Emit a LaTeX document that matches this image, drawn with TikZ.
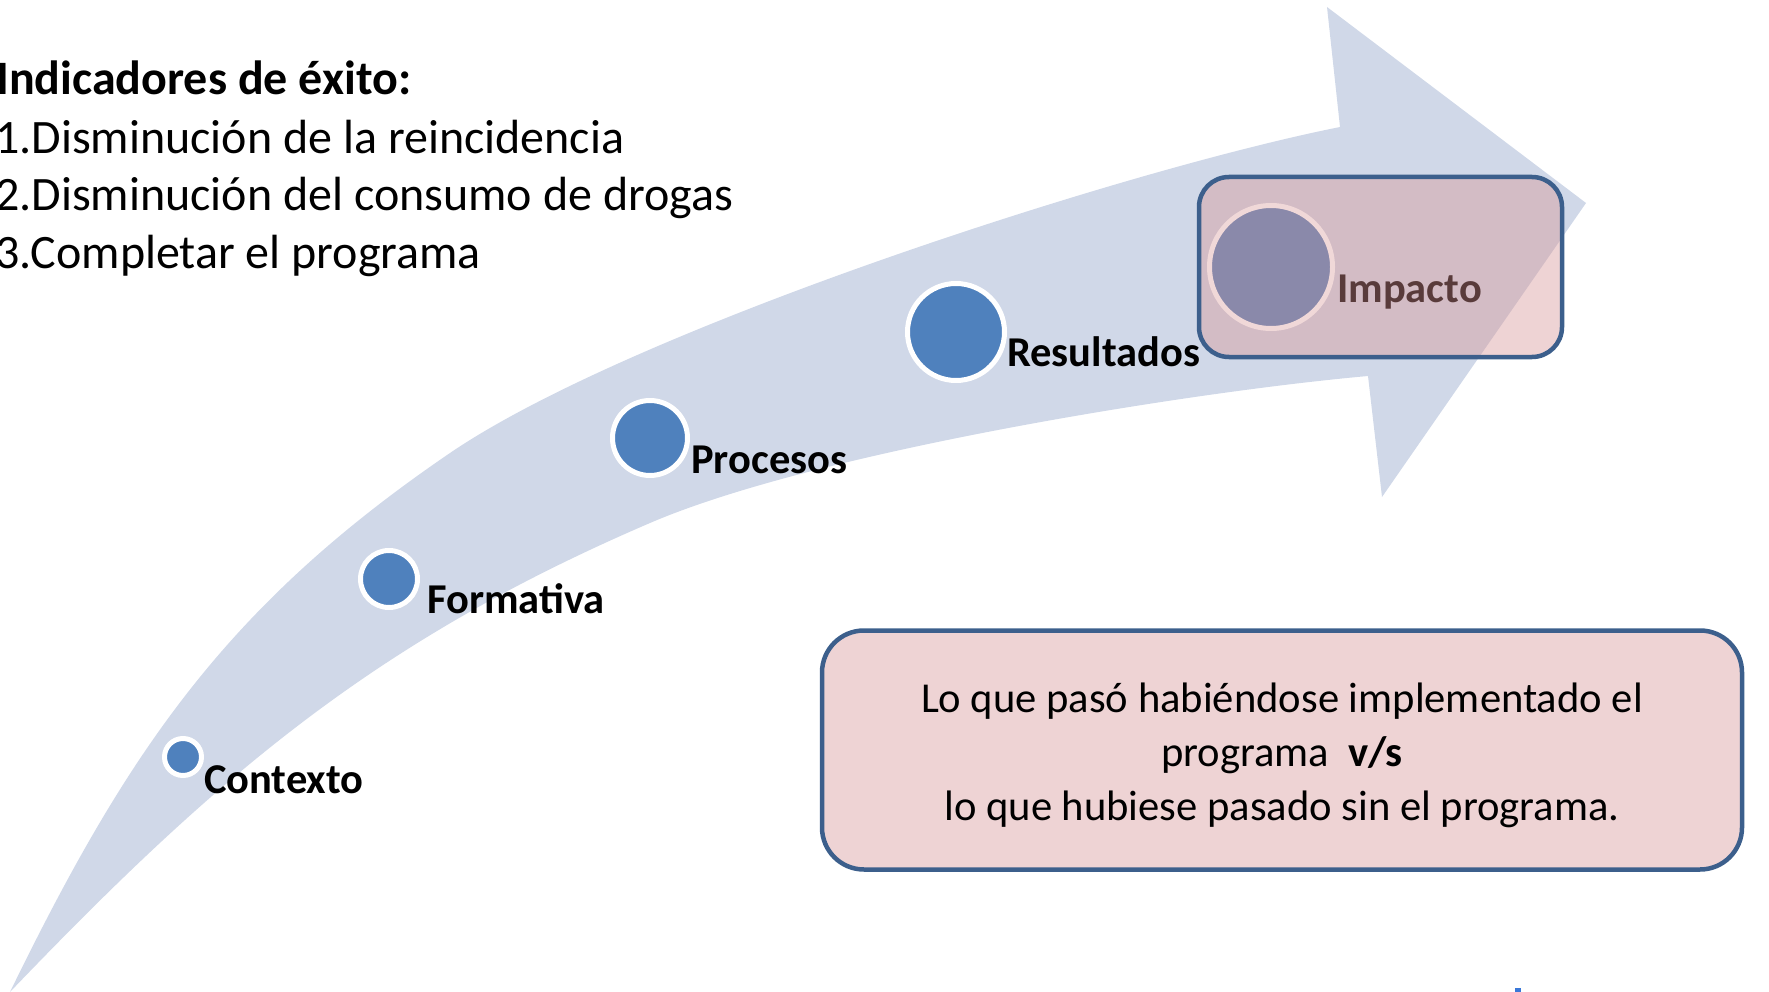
\documentclass[tikz,border=0pt]{standalone}
\usepackage{fontspec}
\setmainfont{Carlito}
\definecolor{band}{RGB}{208,216,232}
\definecolor{dotblue}{RGB}{79,129,189}
\definecolor{boxline}{RGB}{60,95,140}
\definecolor{boxpink}{RGB}{238,211,212}
\definecolor{boxmix}{RGB}{211,188,197}
\definecolor{impcirc}{RGB}{138,137,170}
\definecolor{impring}{RGB}{240,216,216}
\definecolor{imptext}{RGB}{89,59,59}
\definecolor{markblue}{RGB}{58,120,216}
\tikzset{
  dot/.style={circle, fill=dotblue, draw=white, line width=5pt, inner sep=0pt},
  lbl/.style={anchor=base west, inner sep=0pt, font=\fontsize{42.5}{50}\selectfont\bfseries},
  hdr/.style={anchor=base west, inner sep=0pt, font=\fontsize{48}{57}\selectfont},
  pinkbox/.style={draw=boxline, line width=4.5pt, inner sep=0pt}
}
\begin{document}
\begin{tikzpicture}[x=1pt,y=-1pt]
\useasboundingbox (0,0) rectangle (1769,992);
% arrow band
\def\arrowpath{(10,992) .. controls (128,750) and (227,605) .. (450,453) .. controls (632,329) and (1124,170) .. (1340,127) -- (1327,7) -- (1586,203) -- (1382,497) -- (1368,376) .. controls (1189,392) and (815,452) .. (650,523) .. controls (374,641.5) and (217,776) .. (10,992) -- cycle}
\fill[band] \arrowpath;
% dots
\node[dot, minimum size=37pt] (c1) at (183,757) {};
\node[dot, minimum size=57pt] (c2) at (389,579) {};
\node[dot, minimum size=75pt] (c3) at (650,438) {};
\node[dot, minimum size=97pt] (c4) at (956,332) {};
% labels
\node[lbl] (l1) at (204,793) {Contexto};
\node[lbl] (l2) at (427,613) {Formativa};
\node[lbl] (l3) at (691,473) {Procesos};
\node[lbl] (l4) at (1007,366) {Resultados};
% Impacto box
\fill[boxpink, rounded corners=30pt] (1199,177) rectangle (1562,357);
\begin{scope}
  \clip[rounded corners=30pt] (1199,177) rectangle (1562,357);
  \fill[boxmix] \arrowpath;
\end{scope}
\node[pinkbox, rounded corners=30pt, minimum width=363pt, minimum height=180pt] (ib) at (1380.5,267) {};
\node[circle, fill=impcirc, draw=impring, line width=5pt, inner sep=0pt, minimum size=123pt] (c5) at (1271,267) {};
\node[lbl, text=imptext] (l5) at (1337,302) {Impacto};
% bottom box
\node[pinkbox, fill=boxpink, rounded corners=42pt, minimum width=920pt, minimum height=239pt] (bb) at (1282,750) {};
\node[inner sep=0pt, align=center, font=\fontsize{42.6}{54}\selectfont] (bbt) at ([yshift=-5pt]bb.center) {Lo que pasó habiéndose implementado el\\programa\ \ \textbf{v/s}\\lo que hubiese pasado sin el programa.};
% header
\node[hdr, font=\fontsize{48}{57}\selectfont\bfseries] (h0) at (-4,95) {Indicadores de éxito:};
\node[hdr] (h1) at (-5,153.5) {1.Disminución de la reincidencia};
\node[hdr] (h2) at (-5,211) {2.Disminución del consumo de drogas};
\node[hdr] (h3) at (-5,268.5) {3.Completar el programa};
% small mark
\fill[markblue] (1515,988) rectangle (1521,992);
\end{tikzpicture}
\end{document}
